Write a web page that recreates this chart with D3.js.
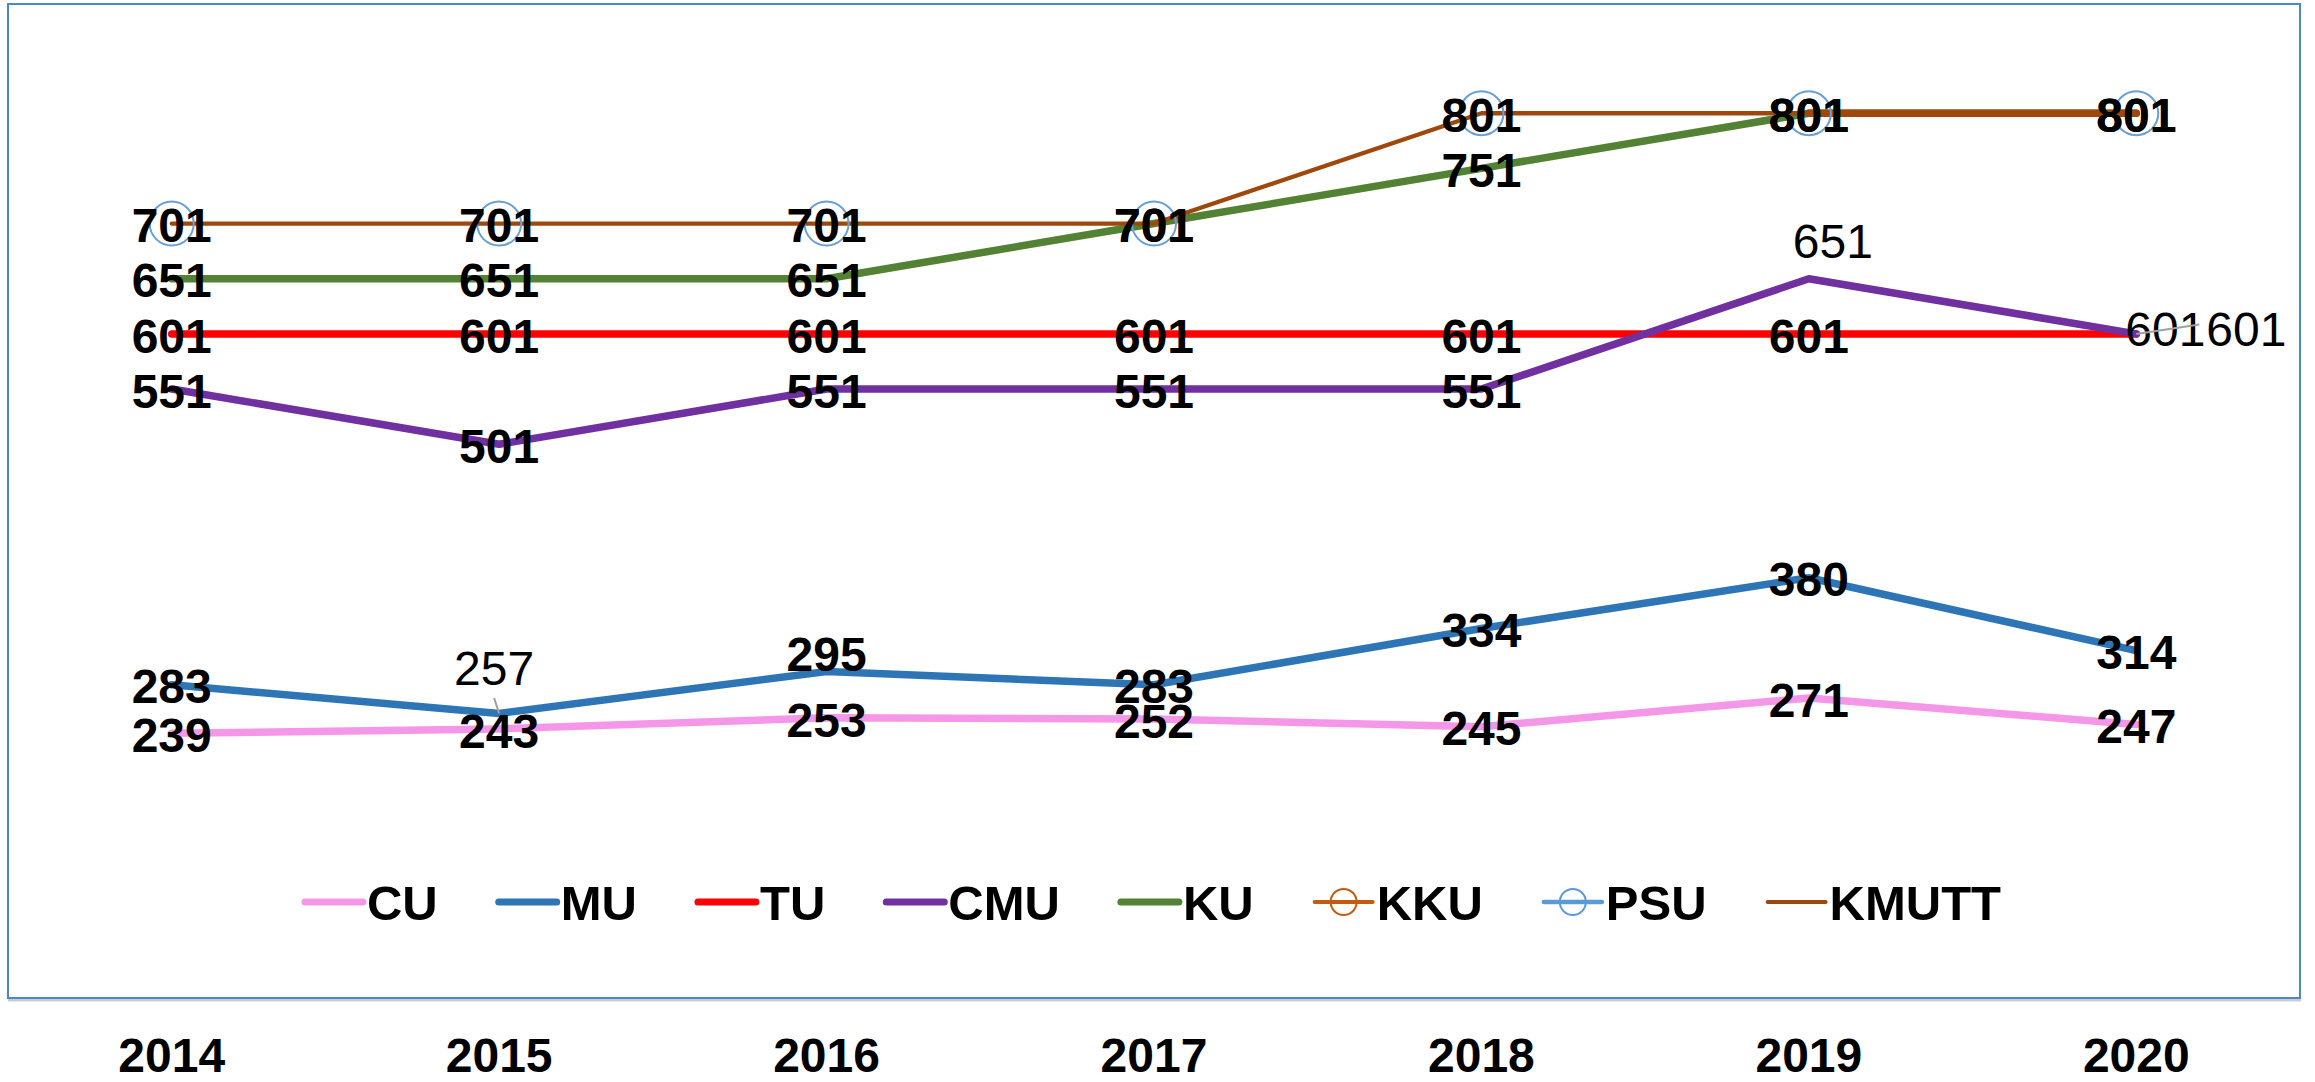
<!DOCTYPE html>
<html lang="en">
<head>
    <meta charset="UTF-8">
    <title>University ranking 2014-2020</title>
    <style>
        body {
            margin: 0;
            background-color: #fff;
        }
        svg text {
            font-family: "Liberation Sans", Arial, sans-serif;
            fill: #000;
        }
    </style>
    <script src="https://d3js.org/d3.v7.min.js"></script>
</head>
<body>
    <svg id="chart" width="2315" height="1082"></svg>
    <script>
        // data
        const years = ['2014', '2015', '2016', '2017', '2018', '2019', '2020'];
        const cu = [239, 243, 253, 252, 245, 271, 247];
        const mu = [283, 257, 295, 283, 334, 380, 314];
        const tu = [601, 601, 601, 601, 601, 601, 601];
        const cmu = [551, 501, 551, 551, 551, 651, 601];
        const ku = [651, 651, 651, 701, 751, 801, 801];
        const kku = [null, null, null, null, null, 801, 801];
        const psu = [701, 701, 701, 701, 801, 801, 801];
        const kmutt = [701, 701, 701, 701, 801, 801, 801];

        // drawing order = legend order
        const series = [
            { name: 'CU', values: cu, color: '#F597E8', width: 7.5, labels: true },
            { name: 'MU', values: mu, color: '#2E75B6', width: 7.5, labels: true },
            { name: 'TU', values: tu, color: '#FF0000', width: 7.5, labels: true },
            { name: 'CMU', values: cmu, color: '#7030A0', width: 7.5, labels: true },
            { name: 'KU', values: ku, color: '#548235', width: 7.5, labels: true },
            { name: 'KKU', values: kku, color: '#9E480E', legendColor: '#C55A11', width: 7.5, legendWidth: 4, marker: true },
            { name: 'PSU', values: psu, color: '#5B9BD5', width: 0, legendWidth: 4.5, marker: true, markerInChart: true },
            { name: 'KMUTT', values: kmutt, color: '#9E480E', width: 4.3, legendWidth: 4, labels: true }
        ];

        // labels that were dragged away from their point
        const labelNudge = {
            'MU-2015': { dx: -5, dy: -47, weight: 400, leader: [0, 30] },
            'MU-2016': { dx: 0, dy: -19 },
            'CMU-2019': { dx: 24, dy: -39, weight: 400 },
            'CMU-2020': { dx: 29, dy: -7, weight: 400, leader: [34, -4] },
            'TU-2020': { dx: 110, dy: -7, weight: 400 }
        };

        const svg = d3.select('#chart');
        const box = { left: 8, top: 4, right: 2300, bottom: 998 };

        const x = d3.scalePoint()
            .domain(years)
            .range([box.left, box.right])
            .padding(0.5);

        const y = d3.scaleLinear()
            .domain([0, 900])
            .range([997, 4]);

        // chart border
        svg.append('line')
            .attr('x1', box.left).attr('x2', box.right + 1)
            .attr('y1', box.bottom + 2).attr('y2', box.bottom + 2)
            .attr('stroke', '#C9CCD1').attr('stroke-width', 3);
        svg.append('rect')
            .attr('x', box.left).attr('y', box.top)
            .attr('width', box.right - box.left).attr('height', box.bottom - box.top)
            .attr('fill', 'none')
            .attr('stroke', '#4A89C9')
            .attr('stroke-width', 2);

        const line = d3.line()
            .defined(d => d != null)
            .x((d, i) => x(years[i]))
            .y(d => y(d));

        const lines = svg.append('g').attr('class', 'lines');
        series.filter(s => s.width > 0).forEach(s => {
            lines.append('path')
                .datum(s.values)
                .attr('d', line)
                .attr('fill', 'none')
                .attr('stroke', s.color)
                .attr('stroke-width', s.width)
                .attr('stroke-linecap', 'round')
                .attr('stroke-linejoin', 'round');
        });

        // hollow circle markers (PSU)
        const markers = svg.append('g').attr('class', 'markers');
        series.filter(s => s.markerInChart).forEach(s => {
            markers.selectAll(null)
                .data(s.values.map((v, i) => ({ v, year: years[i] })).filter(d => d.v != null))
                .enter().append('circle')
                .attr('cx', d => x(d.year))
                .attr('cy', d => y(d.v))
                .attr('r', 22)
                .attr('fill', 'none')
                .attr('stroke', '#6A9FD4')
                .attr('stroke-width', 2);
        });

        // data labels, leader lines on top
        const labels = svg.append('g').attr('class', 'labels');
        const leaders = svg.append('g').attr('class', 'leaders');
        series.filter(s => s.labels).forEach(s => {
            s.values.forEach((v, i) => {
                if (v == null) return;
                const key = s.name + '-' + years[i];
                const n = labelNudge[key] || { dx: 0, dy: 0 };
                const px = x(years[i]);
                const py = y(v);
                const cx = px + n.dx;
                const cy = py + n.dy + 1.5;
                if (n.leader) {
                    leaders.append('line')
                        .attr('x1', px).attr('y1', py)
                        .attr('x2', cx + n.leader[0]).attr('y2', cy + n.leader[1])
                        .attr('stroke', '#A0A0A0')
                        .attr('stroke-width', 2);
                }
                labels.append('text')
                    .attr('x', cx)
                    .attr('y', cy)
                    .attr('dy', '0.358em')
                    .attr('text-anchor', 'middle')
                    .attr('font-size', 48)
                    .attr('font-weight', n.weight || 700)
                    .text(v);
            });
        });

        // x axis labels, outside the border
        svg.append('g')
            .attr('class', 'x-axis')
            .selectAll('text')
            .data(years)
            .enter().append('text')
            .attr('x', d => x(d))
            .attr('y', 1072)
            .attr('text-anchor', 'middle')
            .attr('font-size', 48)
            .attr('font-weight', 700)
            .text(d => d);

        // legend
        const legend = svg.append('g').attr('class', 'legend');
        const legendY = 902;
        const swatch = 58;
        const gap = 61;
        const items = series.map(s => {
            const g = legend.append('g');
            g.append('line')
                .attr('x1', 0).attr('x2', swatch)
                .attr('y1', legendY).attr('y2', legendY)
                .attr('stroke', s.legendColor || s.color)
                .attr('stroke-width', s.legendWidth || 7)
                .attr('stroke-linecap', 'round');
            if (s.marker) {
                g.append('circle')
                    .attr('cx', swatch / 2).attr('cy', legendY)
                    .attr('r', 13)
                    .attr('fill', 'none')
                    .attr('stroke', s.legendColor || s.color)
                    .attr('stroke-width', 2);
            }
            const t = g.append('text')
                .attr('x', swatch + 4)
                .attr('y', legendY)
                .attr('dy', '0.358em')
                .attr('font-size', 49)
                .attr('font-weight', 700)
                .text(s.name);
            return { g, w: swatch + 4 + t.node().getComputedTextLength() };
        });
        const total = d3.sum(items, d => d.w) + gap * (items.length - 1);
        let cursor = 1153 - total / 2;
        items.forEach(it => {
            it.g.attr('transform', `translate(${cursor},0)`);
            cursor += it.w + gap;
        });
    </script>
</body>
</html>
